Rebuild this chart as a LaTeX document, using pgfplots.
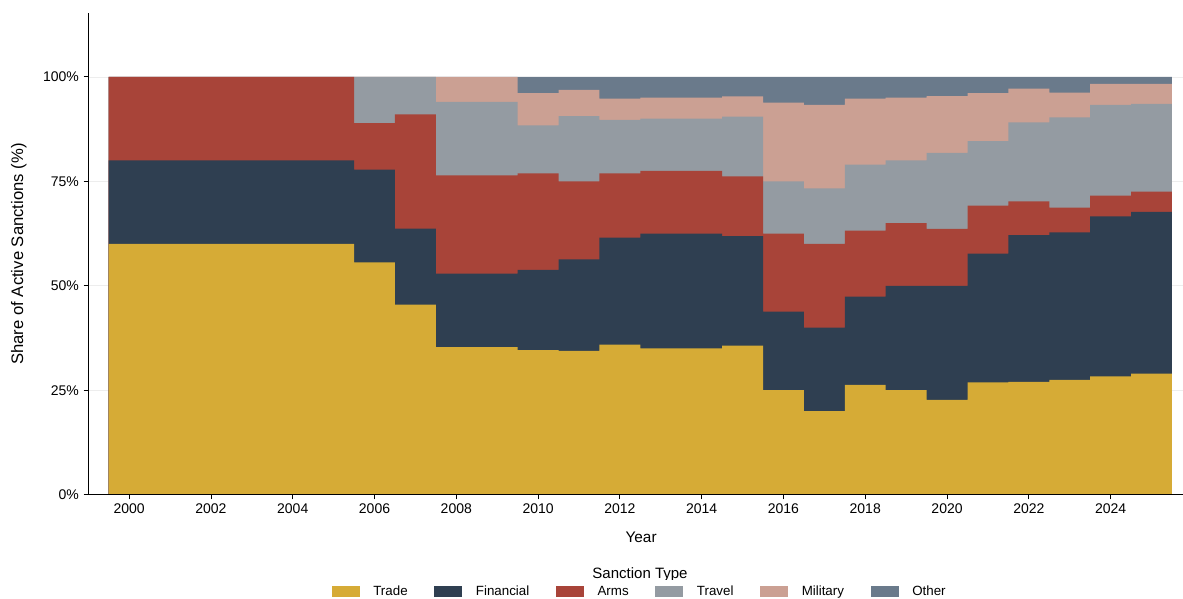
\documentclass[border=0pt]{standalone}
\usepackage{pgfplots}
\pgfplotsset{compat=1.18}
\usepackage{pgfplotstable}
\usepackage{fontspec}
\setmainfont{Liberation Sans}

\definecolor{trade}{HTML}{D6AB36}
\definecolor{financial}{HTML}{2F3F51}
\definecolor{arms}{HTML}{A84439}
\definecolor{travel}{HTML}{949BA2}
\definecolor{military}{HTML}{CBA093}
\definecolor{other}{HTML}{6A7A8B}

% share of active sanctions (%) by type; last row only closes the final step
\pgfplotstableread{
year trade fin arms travel mil other
2000 60.0 20.0 20.0 0.0 0.0 0.0
2001 60.0 20.0 20.0 0.0 0.0 0.0
2002 60.0 20.0 20.0 0.0 0.0 0.0
2003 60.0 20.0 20.0 0.0 0.0 0.0
2004 60.0 20.0 20.0 0.0 0.0 0.0
2005 60.0 20.0 20.0 0.0 0.0 0.0
2006 55.6 22.2 11.1 11.1 0.0 0.0
2007 45.5 18.2 27.3 9.0 0.0 0.0
2008 35.3 17.6 23.5 17.6 6.0 0.0
2009 35.3 17.6 23.5 17.6 6.0 0.0
2010 34.6 19.2 23.1 11.5 7.7 3.9
2011 34.4 21.9 18.7 15.6 6.3 3.1
2012 35.9 25.6 15.4 12.8 5.1 5.2
2013 35.0 27.5 15.0 12.5 5.0 5.0
2014 35.0 27.5 15.0 12.5 5.0 5.0
2015 35.7 26.2 14.3 14.3 4.8 4.7
2016 25.0 18.8 18.7 12.5 18.8 6.2
2017 20.0 20.0 20.0 13.3 20.0 6.7
2018 26.3 21.1 15.8 15.8 15.8 5.2
2019 25.0 25.0 15.0 15.0 15.0 5.0
2020 22.7 27.3 13.6 18.2 13.6 4.6
2021 26.9 30.8 11.5 15.4 11.5 3.9
2022 27.0 35.1 8.1 18.9 8.1 2.8
2023 27.5 35.3 5.9 21.6 5.9 3.8
2024 28.3 38.3 5.0 21.7 5.0 1.7
2025 29.0 38.7 4.8 21.0 4.8 1.7
2026 29.0 38.7 4.8 21.0 4.8 1.7
}\shares

\begin{document}
\begin{tikzpicture}[x=1pt,y=1pt]
\begin{axis}[
  scale only axis, width=821pt, height=361pt,
  xmin=1999, xmax=2025.77, ymin=0, ymax=115.2,
  clip=false,
  axis x line*=bottom, axis y line*=left,
  axis line style={-, black, line width=0.6pt},
  tick align=outside, major tick length=3.5pt,
  tick style={black, line width=0.6pt},
  xtick={2000,2002,...,2024}, ytick={0,25,50,75,100},
  yticklabel={\pgfmathprintnumber{\tick}\%},
  xticklabel style={/pgf/number format/1000 sep={}},
  /pgf/number format/assume math mode=true,
  ticklabel style={font=\fontsize{10.5}{12}\selectfont},
  ymajorgrids, grid style={color=black!7, line width=0.5pt},
  xlabel={Year}, ylabel={Share of Active Sanctions (\%)},
  xlabel style={font=\fontsize{11.5}{13}\selectfont, at={(axis description cs:0.505,-0.088)}, anchor=center},
  ylabel style={font=\fontsize{12.5}{14}\selectfont, at={(axis description cs:-0.0635,0.5)}, anchor=center},
  legend columns=6,
  legend image code/.code={\fill[#1,draw=none] (0pt,-4.2pt) rectangle (21pt,4.2pt); \path (29pt,0pt);},
  legend style={at={(axis description cs:0.504,-0.201)}, anchor=center, draw=none,
    font=\fontsize{10}{12}\selectfont,
    /tikz/every even column/.append style={column sep=18pt}},
  const plot,
  table/x expr=\thisrow{year}-0.5,
]
\addlegendimage{fill=trade}\addlegendentry{Trade}
\addlegendimage{fill=financial}\addlegendentry{Financial}
\addlegendimage{fill=arms}\addlegendentry{Arms}
\addlegendimage{fill=travel}\addlegendentry{Travel}
\addlegendimage{fill=military}\addlegendentry{Military}
\addlegendimage{fill=other}\addlegendentry{Other}

\addplot[fill=other, draw=none, forget plot] table[y expr=\thisrow{trade}+\thisrow{fin}+\thisrow{arms}+\thisrow{travel}+\thisrow{mil}+\thisrow{other}] {\shares} \closedcycle;
\addplot[fill=military, draw=none, forget plot] table[y expr=\thisrow{trade}+\thisrow{fin}+\thisrow{arms}+\thisrow{travel}+\thisrow{mil}] {\shares} \closedcycle;
\addplot[fill=travel, draw=none, forget plot] table[y expr=\thisrow{trade}+\thisrow{fin}+\thisrow{arms}+\thisrow{travel}] {\shares} \closedcycle;
\addplot[fill=arms, draw=none, forget plot] table[y expr=\thisrow{trade}+\thisrow{fin}+\thisrow{arms}] {\shares} \closedcycle;
\addplot[fill=financial, draw=none, forget plot] table[y expr=\thisrow{trade}+\thisrow{fin}] {\shares} \closedcycle;
\addplot[fill=trade, draw=none, forget plot] table[y=trade] {\shares} \closedcycle;

\draw[black, line width=0.6pt] (rel axis cs:0,0) -- (rel axis cs:1,0);
\node[font=\fontsize{11.25}{13}\selectfont] at (axis description cs:0.504,-0.1665) {Sanction Type};
\end{axis}
\pgfresetboundingbox
\path[use as bounding box] (-66.2pt,-77.5pt) rectangle (821pt,371pt);
\end{tikzpicture}
\end{document}
